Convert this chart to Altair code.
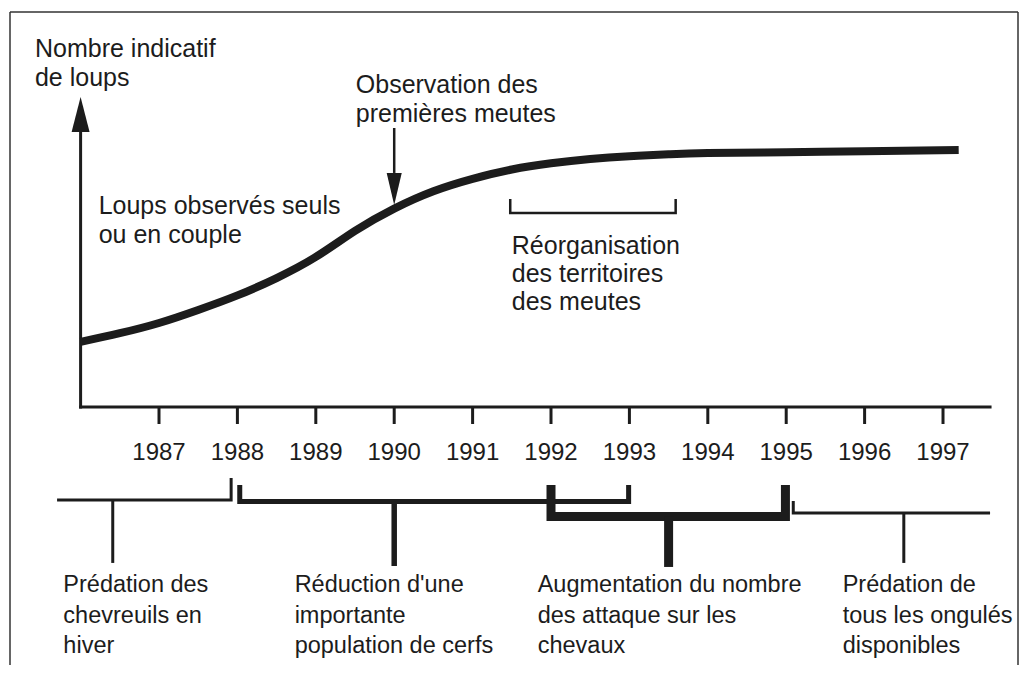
import altair as alt
import pandas as pd

# ---------------- data ----------------
curve_year = [1986.0, 1986.5, 1987.0, 1987.5, 1988.0, 1988.5, 1989.0, 1989.5,
              1990.0, 1990.5, 1991.0, 1991.5, 1992.0, 1992.5, 1993.0, 1993.5,
              1994.0, 1995.0, 1996.0, 1997.2]
curve_wolves = [21.0, 23.8, 27.1, 31.3, 36.0, 41.6, 48.4, 56.8,
                64.0, 69.6, 73.6, 76.6, 78.6, 80.0, 80.9, 81.5,
                81.9, 82.2, 82.5, 82.9]

tick_years = [1987, 1988, 1989, 1990, 1991, 1992, 1993, 1994, 1995, 1996, 1997]
axis_start, axis_end = 1986.0, 1997.6

# periods below the time axis
period_start = [1985.70, 1988.03, 1992.00, 1995.09]
period_end = [1987.92, 1992.99, 1994.99, 1997.60]
period_stem = [1986.41, 1990.00, 1993.50, 1996.50]
period_label = [
    "Prédation des\nchevreuils en\nhiver",
    "Réduction d'une\nimportante\npopulation de cerfs",
    "Augmentation du nombre\ndes attaque sur les\nchevaux",
    "Prédation de\ntous les ongulés\ndisponibles",
]
period_label_x = [1985.78, 1988.73, 1991.83, 1995.72]

# territory re-organisation bracket (above the curve)
reorg_start, reorg_end = 1991.48, 1993.59
first_packs_year = 1990.0

# ---------------- layout (data units of the y scale) ----------------
X_DOMAIN = [1985.074, 1997.982]
Y_DOMAIN = [-83.226, 128.71]
W, H = 1012, 657
INK = "#1c1c1c"
FONT = "Liberation Sans"
FS_TOP = 25
FS_TICK = 24
FS_BOTTOM = 23.5

# bar level, left tip, right tip, stem bottom
period_levels = [(-30.0, None, -22.9, -50.3),
                 (-30.5, -25.2, -25.2, -51.3),
                 (-35.3, -25.2, -25.2, -51.6),
                 (-34.2, -30.3, None, -50.3)]
period_width = [3, 5, 9, 3]
period_stem_width = [3, 5.5, 9, 3]

xs = alt.Scale(domain=X_DOMAIN, nice=False, zero=False)
ys = alt.Scale(domain=Y_DOMAIN, nice=False, zero=False)


def X(f="x"):
    return alt.X(f"{f}:Q", scale=xs, axis=None)


def Y(f="y"):
    return alt.Y(f"{f}:Q", scale=ys, axis=None)


# ---------------- tables ----------------
curve_df = pd.DataFrame({"x": curve_year, "y": curve_wolves})

bracket_rows = []
stem_rows = []
for i in range(len(period_start)):
    bar, lt, rt, bottom = period_levels[i]
    pts = []
    if lt is not None:
        pts.append((period_start[i], lt))
    pts.append((period_start[i], bar))
    pts.append((period_end[i], bar))
    if rt is not None:
        pts.append((period_end[i], rt))
    for k, (px, py) in enumerate(pts):
        bracket_rows.append({"id": i, "o": k, "x": px, "y": py, "w": period_width[i]})
    stem_rows.append({"x": period_stem[i], "y": bar, "y2": bottom, "w": period_stem_width[i]})
# reorganisation bracket
for k, (px, py) in enumerate([(reorg_start, 67.1), (reorg_start, 62.6),
                              (reorg_end, 62.6), (reorg_end, 67.1)]):
    bracket_rows.append({"id": 9, "o": k, "x": px, "y": py, "w": 2.5})
bracket_df = pd.DataFrame(bracket_rows)
stem_df = pd.DataFrame(stem_rows)

ticks_df = pd.DataFrame({"x": tick_years, "y": [0.0] * len(tick_years),
                         "y2": [-5.48] * len(tick_years),
                         "lab": [str(t) for t in tick_years],
                         "ly": [-17.1] * len(tick_years)})

axes_df = pd.DataFrame({"x": [axis_start, axis_start], "x2": [axis_end, axis_start],
                        "y": [0.0, 0.0], "y2": [0.0, 88.7]})

heads_df = pd.DataFrame({"x": [axis_start], "y": [94.35]})
obs_head_df = pd.DataFrame({"x": [first_packs_year], "y": [70.32]})
obs_stem_df = pd.DataFrame({"x": [first_packs_year], "y": [90.0], "y2": [75.5]})

top_text_df = pd.DataFrame({
    "x": [1985.418, 1989.51, 1986.23],
    "y": [112.9, 101.3, 62.26],
    "t": ["Nombre indicatif\nde loups", "Observation des\npremières meutes",
          "Loups observés seuls\nou en couple"],
})
reorg_text_df = pd.DataFrame({"x": [1991.50], "y": [49.35],
                              "t": ["Réorganisation\ndes territoires\ndes meutes"]})
bottom_text_df = pd.DataFrame({"x": period_label_x, "y": [-59.68] * 4, "t": period_label})

# ---------------- layers ----------------
frame = [
    alt.Chart(pd.DataFrame({"a": [0]})).mark_rule(color="#333333", strokeWidth=1.5).encode(
        x=alt.value(2), y=alt.value(4), y2=alt.value(H)),
    alt.Chart(pd.DataFrame({"a": [0]})).mark_rule(color="#333333", strokeWidth=1.5).encode(
        x=alt.value(2), x2=alt.value(1010), y=alt.value(4)),
    alt.Chart(pd.DataFrame({"a": [0]})).mark_rule(color="#333333", strokeWidth=1.5).encode(
        x=alt.value(1010), y=alt.value(4), y2=alt.value(H)),
]

axes = alt.Chart(axes_df).mark_rule(color=INK, strokeWidth=3, strokeCap="square").encode(
    x=X(), x2="x2:Q", y=Y(), y2="y2:Q")

ticks = alt.Chart(ticks_df).mark_rule(color=INK, strokeWidth=3).encode(
    x=X(), y=Y(), y2="y2:Q")

tick_labels = alt.Chart(ticks_df).mark_text(
    font=FONT, fontSize=FS_TICK, color=INK, align="center", baseline="alphabetic").encode(
    x=X(), y=Y("ly"), text="lab:N")

y_head = alt.Chart(heads_df).mark_point(
    shape="M0,-1L0.514,1L-0.514,1Z", size=1225, filled=True, opacity=1,
    color=INK, strokeWidth=0).encode(x=X(), y=Y())

curve = alt.Chart(curve_df).mark_line(
    color=INK, strokeWidth=8, strokeCap="butt", interpolate="natural").encode(
    x=X(), y=Y())

obs_stem = alt.Chart(obs_stem_df).mark_rule(color=INK, strokeWidth=2.5).encode(
    x=X(), y=Y(), y2="y2:Q")
obs_head = alt.Chart(obs_head_df).mark_point(
    shape="M0,1L0.47,-1L-0.47,-1Z", size=1024, filled=True, opacity=1,
    color=INK, strokeWidth=0).encode(x=X(), y=Y())

brackets = alt.Chart(bracket_df).mark_line(
    color=INK, strokeCap="butt", strokeJoin="miter").encode(
    x=X(), y=Y(), detail="id:N", order="o:Q",
    strokeWidth=alt.StrokeWidth("w:Q", scale=None, legend=None))

stems = alt.Chart(stem_df).mark_rule(color=INK).encode(
    x=X(), y=Y(), y2="y2:Q",
    strokeWidth=alt.StrokeWidth("w:Q", scale=None, legend=None))

top_text = alt.Chart(top_text_df).mark_text(
    font=FONT, fontSize=FS_TOP, color=INK, align="left", baseline="alphabetic",
    lineBreak="\n", lineHeight=29).encode(x=X(), y=Y(), text="t:N")
reorg_text = alt.Chart(reorg_text_df).mark_text(
    font=FONT, fontSize=FS_TOP, color=INK, align="left", baseline="alphabetic",
    lineBreak="\n", lineHeight=28).encode(x=X(), y=Y(), text="t:N")
bottom_text = alt.Chart(bottom_text_df).mark_text(
    font=FONT, fontSize=FS_BOTTOM, color=INK, align="left", baseline="alphabetic",
    lineBreak="\n", lineHeight=30.5).encode(x=X(), y=Y(), text="t:N")

chart = alt.layer(
    *frame, axes, ticks, tick_labels, y_head, curve, obs_stem, obs_head,
    brackets, stems, top_text, reorg_text, bottom_text
).properties(
    width=W, height=H,
    autosize=alt.AutoSizeParams(type="none"),
    padding={"left": 0, "top": 0, "right": 0, "bottom": 0},
).configure_view(stroke=None)

chart.save("out.html", embed_options={"renderer": "svg", "actions": False})
